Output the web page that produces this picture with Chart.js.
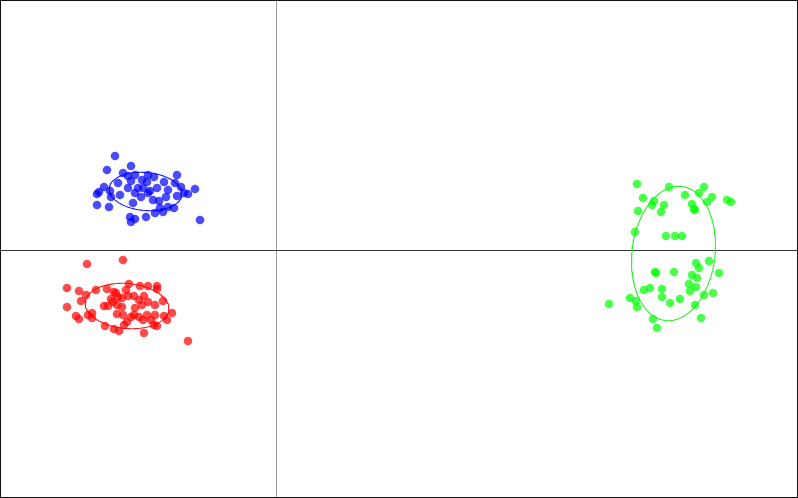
<!DOCTYPE html>
<html>
<head>
<meta charset="utf-8">
<script src="https://cdn.jsdelivr.net/npm/chart.js@4/dist/chart.umd.min.js"></script>
<style>
  html, body { margin: 0; padding: 0; background: #fff; }
  #wrap { width: 798px; height: 498px; }
</style>
</head>
<body>
<div id="wrap"><canvas id="c" width="798" height="498"></canvas></div>
<script>
// ---- data (x, y in plot units) ----
const groupNames = ['setosa', 'versicolor', 'virginica'];

const bluePoints = [
  [-16.1,9.4],[-14.5,8.4],[-16.9,8.0],[-15.3,7.7],[-14.8,7.4],[-14.1,7.5],[-12.8,7.5],[-12.2,7.3],
  [-9.9,7.5],[-15.8,6.7],[-13.4,7.0],[-12.9,6.8],[-14.5,6.9],[-11.2,6.8],[-10.1,6.7],[-13.8,6.2],
  [-14.8,6.2],[-13.3,6.2],[-11.9,6.2],[-10.8,6.0],[-9.5,6.3],[-9.2,5.7],[-8.8,5.6],[-8.1,6.1],
  [-17.2,6.3],[-17.7,5.8],[-17.9,5.6],[-16.6,5.9],[-16.5,5.3],[-15.6,5.5],[-14.1,5.7],[-12.8,5.7],
  [-13.5,5.3],[-12.3,5.0],[-11.7,4.9],[-11.0,5.3],[-9.9,5.4],[-17.9,4.5],[-16.7,4.3],[-14.3,4.7],
  [-11.6,4.2],[-10.8,4.3],[-10.2,4.2],[-12.1,3.7],[-11.3,3.8],[-13.0,3.3],[-14.6,3.3],[-14.1,3.1],
  [-14.5,2.8],[-7.6,3.0],[-12.6,5.9]
];

const redPoints = [
  [-18.9,-1.4],[-15.3,-1.0],[-20.9,-3.8],[-19.7,-4.1],[-19.0,-4.5],[-18.0,-4.0],[-16.9,-3.9],[-14.7,-3.4],
  [-13.6,-3.6],[-12.8,-3.6],[-11.9,-3.6],[-11.9,-3.9],[-19.5,-5.1],[-20.9,-5.7],[-16.2,-4.2],[-15.8,-4.7],
  [-15.4,-4.8],[-15.0,-4.0],[-14.8,-4.6],[-14.2,-4.6],[-13.2,-4.6],[-13.7,-5.0],[-12.8,-5.2],[-11.3,-5.1],
  [-12.1,-5.5],[-13.4,-5.5],[-14.1,-5.8],[-16.3,-5.2],[-15.9,-5.5],[-15.4,-5.7],[-17.2,-5.6],[-16.8,-5.6],
  [-20.0,-6.6],[-19.7,-6.9],[-18.8,-6.5],[-18.4,-6.3],[-18.4,-6.8],[-15.9,-6.4],[-15.3,-6.5],[-14.2,-6.5],
  [-14.5,-6.7],[-13.7,-6.7],[-12.9,-6.5],[-12.1,-6.5],[-11.2,-6.6],[-10.4,-6.3],[-10.9,-7.0],[-12.5,-7.0],
  [-13.3,-7.0],[-12.2,-7.5],[-14.9,-7.2],[-15.2,-7.5],[-17.1,-7.6],[-16.2,-7.9],[-15.7,-8.1],[-13.2,-8.3],
  [-11.9,-7.6],[-8.8,-9.1],[-16.5,-4.9],[-16.0,-4.3]
];

const greenPoints = [
  [36.1,6.6],[39.3,6.3],[42.8,6.3],[36.7,5.2],[40.9,5.5],[42.3,5.7],[43.6,5.3],[37.8,4.9],
  [37.6,4.5],[38.8,4.5],[38.5,3.8],[41.6,4.6],[41.8,4.1],[41.9,4.0],[43.1,4.8],[45.1,5.0],
  [45.5,4.8],[36.2,3.9],[35.9,1.8],[39.0,1.4],[39.9,1.4],[40.6,1.4],
  [42.0,-1.3],[43.3,-1.1],[42.3,-1.8],[37.9,-2.2],[38.0,-2.3],[39.8,-2.2],[44.3,-2.3],[41.6,-2.5],
  [42.1,-2.8],[41.3,-3.4],[37.4,-3.8],[36.8,-4.0],[38.6,-3.9],[42.0,-3.7],[41.4,-4.1],[38.6,-4.7],
  [40.4,-4.9],[42.8,-4.5],[43.7,-4.3],[35.4,-4.8],[36.0,-5.1],[36.1,-5.7],[33.3,-5.4],[39.4,-5.3],
  [41.9,-5.5],[37.7,-6.9],[42.5,-6.8],[38.1,-7.8]
];

// ellipse summaries: [centerX, centerY, semiAxisA, semiAxisB, angleDeg]
const blueEllipse  = [-13.05, 5.85, 3.65, 1.9, -5];
const redEllipse   = [-14.9, -5.6, 4.2, 2.25, -5];
const greenEllipse = [39.75, -0.35, 6.75, 4.15, 83];

const xRange = [-27.6, 52.2];
const yRange = [-24.8, 25.0];

const pointColors   = ['rgba(0,0,255,0.7)', 'rgba(255,0,0,0.7)', 'rgba(0,255,0,0.7)'];
const ellipseColors = ['rgba(0,0,255,0.9)', 'rgba(255,0,0,0.9)', 'rgba(30,240,30,0.95)'];

// ---- build ----
function toXY(arr) { return arr.map(p => ({ x: p[0], y: p[1] })); }
function ellipseOutline(e) {
  const [cx, cy, a, b, deg] = e;
  const t = deg * Math.PI / 180, out = [];
  for (let i = 0; i <= 160; i++) {
    const s = i / 160 * 2 * Math.PI;
    const ex = a * Math.cos(s), ey = b * Math.sin(s);
    out.push({ x: cx + ex * Math.cos(t) - ey * Math.sin(t), y: cy + ex * Math.sin(t) + ey * Math.cos(t) });
  }
  return out;
}

const groups = [bluePoints, redPoints, greenPoints];
const ellipses = [blueEllipse, redEllipse, greenEllipse];
const datasets = [];
groups.forEach((g, i) => {
  datasets.push({
    label: groupNames[i], data: toXY(g), showLine: false,
    pointRadius: 4.3, pointHoverRadius: 4.3, pointBorderWidth: 0,
    backgroundColor: pointColors[i], borderColor: 'rgba(0,0,0,0)', order: 2
  });
});
ellipses.forEach((e, i) => {
  datasets.push({
    label: groupNames[i] + ' ellipse', data: ellipseOutline(e), showLine: true,
    pointRadius: 0, borderWidth: 1.1, borderColor: ellipseColors[i], fill: false,
    tension: 0, order: 1
  });
});

const axesPlugin = {
  id: 'zeroAxes',
  beforeDatasetsDraw(chart) {
    const ctx = chart.ctx;
    const px = Math.round(chart.scales.x.getPixelForValue(0)) + 0.5;
    const py = Math.round(chart.scales.y.getPixelForValue(0)) + 0.5;
    ctx.save();
    ctx.lineWidth = 1;
    ctx.strokeStyle = '#999';
    ctx.beginPath(); ctx.moveTo(px, 0); ctx.lineTo(px, chart.height); ctx.stroke();
    ctx.strokeStyle = '#333';
    ctx.beginPath(); ctx.moveTo(0, py); ctx.lineTo(chart.width, py); ctx.stroke();
    ctx.restore();
  },
  afterDraw(chart) {
    const ctx = chart.ctx;
    ctx.save();
    ctx.strokeStyle = '#111';
    ctx.lineWidth = 1;
    ctx.strokeRect(0.5, 0.5, chart.width - 1, chart.height - 1);
    ctx.restore();
  }
};

new Chart(document.getElementById('c'), {
  type: 'scatter',
  data: { datasets },
  options: {
    responsive: false,
    animation: false,
    layout: { padding: 0, autoPadding: false },
    plugins: { legend: { display: false }, tooltip: { enabled: false } },
    scales: {
      x: { type: 'linear', min: xRange[0], max: xRange[1], display: false },
      y: { type: 'linear', min: yRange[0], max: yRange[1], display: false }
    }
  },
  plugins: [axesPlugin]
});
</script>
</body>
</html>
